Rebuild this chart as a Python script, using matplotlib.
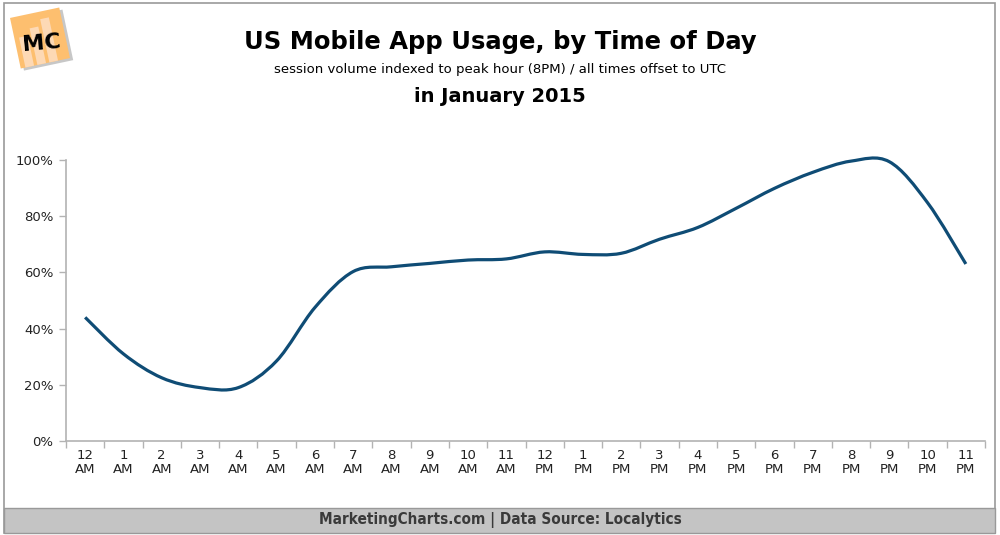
import matplotlib.pyplot as plt
import numpy as np
from matplotlib.path import Path
from matplotlib.patches import PathPatch, Rectangle
import matplotlib.transforms as mtransforms

hours = ['12', '1', '2', '3', '4', '5', '6', '7', '8', '9', '10', '11',
         '12', '1', '2', '3', '4', '5', '6', '7', '8', '9', '10', '11']
ampm = ['AM'] * 12 + ['PM'] * 12
usage = [44, 31, 22.5, 19, 19, 28.5, 47.5, 60.3, 62, 63.2, 64.4, 64.8,
         67.3, 66.4, 66.8, 71.8, 76, 82.8, 89.9, 95.6, 99.6, 99.4, 84.8, 63]

line_color = '#0f4c75'
grey = '#b3b3b3'

fig = plt.figure(figsize=(10, 5.35), dpi=100)
ax = fig.add_axes([0.066, 1 - 441 / 535, 0.919, (441 - 160) / 535])

# smoothed line (Excel style bezier through the points)
x = np.arange(len(usage))
y = np.array(usage, dtype=float)
verts = [(x[0], y[0])]
codes = [Path.MOVETO]
for i in range(len(x) - 1):
    p0 = (x[i - 1], y[i - 1]) if i > 0 else (x[i], y[i])
    p1 = (x[i], y[i])
    p2 = (x[i + 1], y[i + 1])
    p3 = (x[i + 2], y[i + 2]) if i + 2 < len(x) else p2
    c1 = (p1[0] + (p2[0] - p0[0]) / 6, p1[1] + (p2[1] - p0[1]) / 6)
    c2 = (p2[0] - (p3[0] - p1[0]) / 6, p2[1] - (p3[1] - p1[1]) / 6)
    verts += [c1, c2, p2]
    codes += [Path.CURVE4] * 3
ax.add_patch(PathPatch(Path(verts, codes), facecolor='none', edgecolor=line_color,
                       lw=2.3, clip_on=False, capstyle='butt'))

ax.set_xlim(-0.5, 23.5)
ax.set_ylim(0, 100)
ax.set_yticks([0, 20, 40, 60, 80, 100])
ax.set_yticklabels(['0%', '20%', '40%', '60%', '80%', '100%'], fontsize=9.5, color='#222222')
ax.set_xticks(x)
ax.set_xticklabels([h + '\n' + a for h, a in zip(hours, ampm)], fontsize=9.5,
                   linespacing=1.1, color='#222222')
ax.set_xticks(np.arange(-0.5, 24, 1), minor=True)
ax.tick_params(axis='x', which='major', length=0, pad=6)
ax.tick_params(axis='x', which='minor', length=5, color=grey, width=1)
ax.tick_params(axis='y', length=5, color=grey, width=1, pad=4)
for s in ['top', 'right']:
    ax.spines[s].set_visible(False)
for s in ['left', 'bottom']:
    ax.spines[s].set_color(grey)
    ax.spines[s].set_linewidth(1.2)

# titles
fig.text(0.5, 1 - 42 / 535, 'US Mobile App Usage, by Time of Day', ha='center',
         va='center', fontsize=17.5, fontweight='bold')
fig.text(0.5, 1 - 70 / 535, 'session volume indexed to peak hour (8PM) / all times offset to UTC',
         ha='center', va='center', fontsize=9.5)
fig.text(0.5, 1 - 97 / 535, 'in January 2015', ha='center', va='center',
         fontsize=14, fontweight='bold')

# border and footer
fig.add_artist(Rectangle((4 / 1000, 2 / 535), 991 / 1000, 530 / 535, transform=fig.transFigure,
                         facecolor='none', edgecolor='#999999', lw=1.2))
fig.add_artist(Rectangle((4 / 1000, 2 / 535), 991 / 1000, 25 / 535, transform=fig.transFigure,
                         facecolor='#c4c4c4', edgecolor='#999999', lw=1))
fig.text(0.5, 1 - 520 / 535, 'MarketingCharts.com | Data Source: Localytics', ha='center',
         va='center', fontsize=11, fontweight='bold', color='#3a3a3a',
         family='DejaVu Sans', fontstretch='condensed')

# logo
lax = fig.add_axes([0.006, 1 - 72 / 535, 0.068, 68 / 535])
lax.set_xlim(0, 1)
lax.set_ylim(0, 1)
lax.axis('off')
rot = mtransforms.Affine2D().rotate_deg_around(0.5, 0.5, 12) + lax.transData
lax.add_patch(Rectangle((0.17, 0.08), 0.74, 0.76, facecolor='#b0b0b0', edgecolor='none',
                        transform=rot, alpha=0.7))
lax.add_patch(Rectangle((0.13, 0.12), 0.74, 0.76, facecolor='#fdbf6f', edgecolor='none',
                        transform=rot))
for bx, bh in [(0.2, 0.45), (0.38, 0.55), (0.56, 0.65)]:
    lax.add_patch(Rectangle((bx, 0.12), 0.13, bh, facecolor='#fdd9b5', edgecolor='none',
                            transform=rot))
lax.text(0.52, 0.42, 'MC', ha='center', va='center', fontsize=16, fontweight='bold',
         rotation=5, color='black')

plt.savefig('out.png', dpi=100)
